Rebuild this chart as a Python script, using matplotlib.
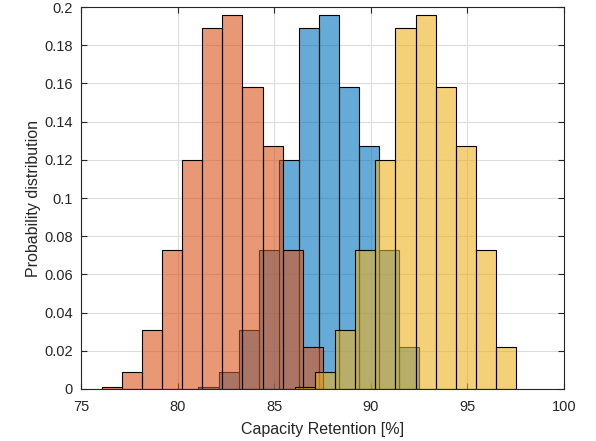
import numpy as np
import matplotlib.pyplot as plt

plt.rcParams['font.family'] = ['Liberation Sans', 'DejaVu Sans']

# probability per bin (same shape for the three cases, shifted by 5 %)
probs = [0.001, 0.009, 0.031, 0.073, 0.120, 0.189, 0.196, 0.158, 0.127, 0.073, 0.022]
start_orange = 76.08
start_blue = 81.08
start_yellow = 86.08
bin_w = 1.04

xticks = [75, 80, 85, 90, 95, 100]
yticks = [0, 0.02, 0.04, 0.06, 0.08, 0.1, 0.12, 0.14, 0.16, 0.18, 0.2]
ylabels = ['0', '0.02', '0.04', '0.06', '0.08', '0.1', '0.12', '0.14', '0.16', '0.18', '0.2']

c_blue = '#0072BD'
c_orange = '#D95319'
c_yellow = '#EDB120'
axc = '#262626'

fig = plt.figure(figsize=(5.96, 4.41), dpi=100)
ax = fig.add_axes([0.136, 0.118, 0.810, 0.866])

edges = np.arange(len(probs)) * bin_w
for st, col, z in [(start_blue, c_blue, 2), (start_orange, c_orange, 3), (start_yellow, c_yellow, 4)]:
    ax.bar(st + edges, probs, width=bin_w, align='edge', color=col, alpha=0.6,
           edgecolor='none', zorder=z)
    ax.bar(st + edges, probs, width=bin_w, align='edge', fill=False,
           edgecolor='black', linewidth=0.8, zorder=z)

ax.set_xlim(75, 100)
ax.set_ylim(0, 0.2)
ax.set_xticks(xticks)
ax.set_yticks(yticks)
ax.set_yticklabels(ylabels)
ax.grid(True, color='#dcdcdc', linewidth=0.8, zorder=0)
ax.set_axisbelow(True)
ax.tick_params(direction='in', top=True, right=True, length=4, colors=axc,
               labelsize=10.5, labelcolor=axc)
ax.tick_params(axis='x', pad=8)
ax.tick_params(axis='y', pad=6)
for s in ax.spines.values():
    s.set_color(axc)
    s.set_linewidth(0.8)
    s.set_zorder(10)

ax.set_xlabel('Capacity Retention [%]', fontsize=11.5, color=axc, labelpad=6)
ax.set_ylabel('Probability distribution', fontsize=11.5, color=axc, labelpad=2)

fig.savefig('out.png', dpi=100)
